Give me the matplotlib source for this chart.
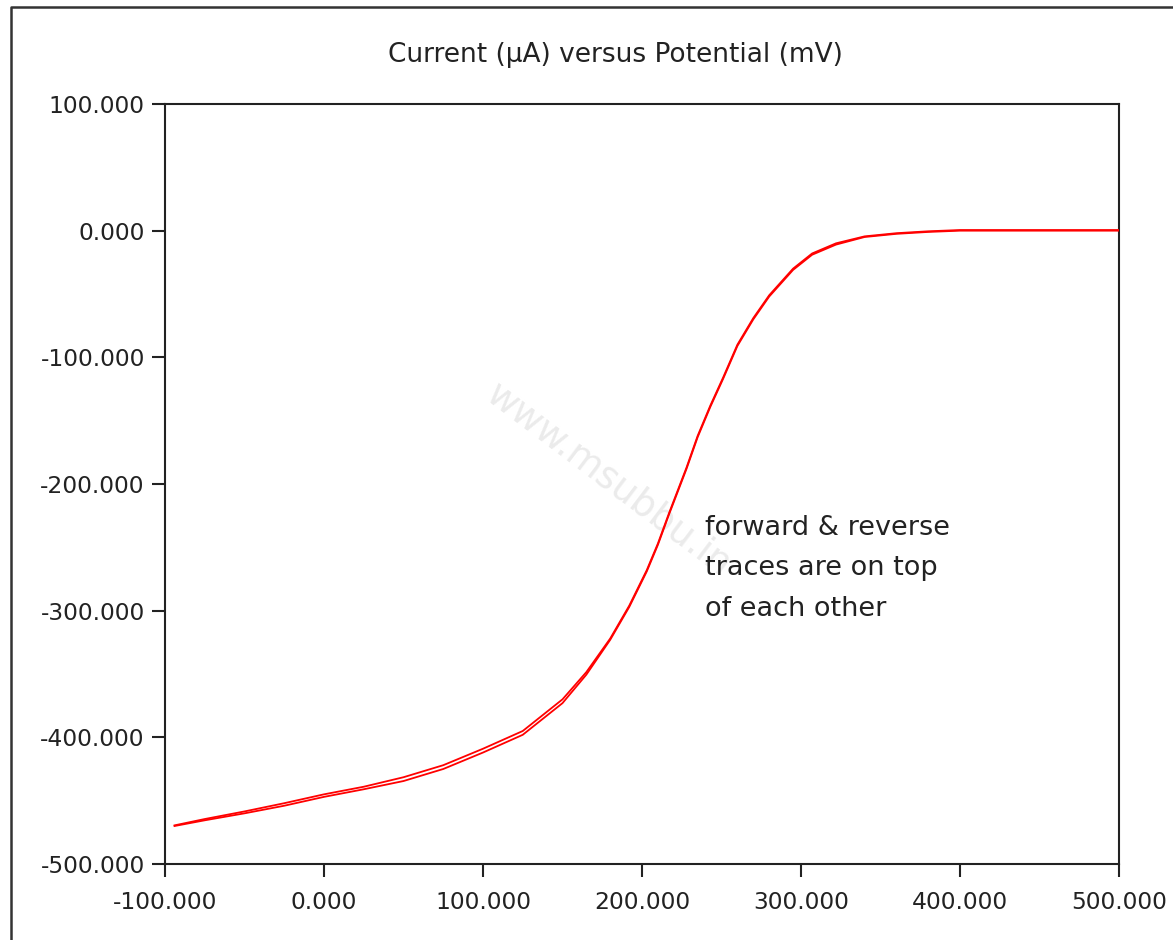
import matplotlib.pyplot as plt
from matplotlib.lines import Line2D

plt.rcParams['font.family'] = ['DejaVu Sans']

# potential (mV) and current (uA)
potential = [-94, -75, -50, -25, 0, 25, 50, 75, 100, 125, 150, 165, 180,
             192, 203, 210, 217, 228, 235, 243, 251, 260, 270, 280, 295,
             307, 322, 340, 360, 380, 400, 450, 500]
current_fwd = [-470, -465.5, -460, -454, -447, -441, -434.5, -425, -412, -398,
               -373, -350.5, -323, -297, -269, -248, -224, -188, -163, -139,
               -117, -91, -70, -52, -31, -19, -11, -5, -2.5, -1, 0, 0, 0]
current_rev = [-469.5, -464.5, -458.5, -452, -445, -439, -431.5, -422, -409, -395,
               -370, -348.5, -322, -296, -268, -247, -223, -187, -162, -138,
               -116, -90, -69, -51, -30, -18, -10, -4.5, -2, -0.5, 0.5, 0.5, 0.5]

x_ticks = [-100, 0, 100, 200, 300, 400, 500]
y_ticks = [-500, -400, -300, -200, -100, 0, 100]

title = 'Current (\u03bcA) versus Potential (mV)'
note = 'forward & reverse\ntraces are on top\nof each other'

W, H = 1173, 940
fig = plt.figure(figsize=(W / 100, H / 100), dpi=100)
ax = fig.add_axes([165 / W, 1 - 864 / H, (1119 - 165) / W, (864 - 104) / H])

ax.plot(potential, current_fwd, color='#ff0000', lw=1.3, zorder=3)
ax.plot(potential, current_rev, color='#ff0000', lw=1.3, zorder=3)

ax.set_xlim(-100, 500)
ax.set_ylim(-500, 100)
ax.set_xticks(x_ticks)
ax.set_yticks(y_ticks)
ax.set_xticklabels([f'{v:.3f}' for v in x_ticks])
ax.set_yticklabels([f'{v:.3f}' for v in y_ticks])
ax.tick_params(direction='out', length=9.5, width=1.5, colors='#222222',
               labelsize=16.8, pad=5)
ax.tick_params(axis='x', pad=10)
for s in ax.spines.values():
    s.set_linewidth(1.5)
    s.set_color('#222222')

# watermark
ax.text(0.465, 0.505, 'www.msubbu.in', transform=ax.transAxes,
        rotation=-37, fontsize=27, color='#ebebeb', ha='center', va='center',
        zorder=1)

fig.text(705 / W, 1 - 515 / H, note, fontsize=19.5, color='#222222',
         va='top', linespacing=1.72)

fig.text(615 / W, 1 - 55 / H, title, fontsize=19, color='#222222',
         ha='center', va='center')

# outer frame (left and top only, as in the screenshot)
fig.add_artist(Line2D([11 / W, 11 / W, 1], [0, 1 - 7 / H, 1 - 7 / H],
                      transform=fig.transFigure, color='#333333', lw=1.8))

fig.savefig('out.png', dpi=100)
